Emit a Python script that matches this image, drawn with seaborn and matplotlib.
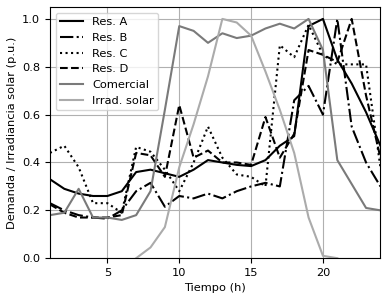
import numpy as np
import pandas as pd
import matplotlib
matplotlib.use("Agg")
import matplotlib.pyplot as plt
import seaborn as sns

hours = list(range(1, 25))
res_a = [0.33, 0.29, 0.27, 0.26, 0.26, 0.28, 0.36, 0.37, 0.355, 0.34, 0.37, 0.41,
         0.40, 0.39, 0.385, 0.41, 0.47, 0.51, 0.97, 1.00, 0.83, 0.73, 0.61, 0.47]
res_b = [0.23, 0.20, 0.18, 0.17, 0.165, 0.20, 0.28, 0.315, 0.215, 0.26, 0.25, 0.27,
         0.25, 0.28, 0.30, 0.315, 0.30, 0.66, 0.72, 0.60, 1.00, 0.55, 0.40, 0.30]
res_c = [0.44, 0.47, 0.38, 0.23, 0.23, 0.19, 0.465, 0.445, 0.37, 0.28, 0.40, 0.55,
         0.42, 0.35, 0.34, 0.30, 0.89, 0.84, 0.975, 0.85, 0.81, 0.81, 0.81, 0.38]
res_d = [0.225, 0.19, 0.17, 0.17, 0.17, 0.18, 0.44, 0.43, 0.34, 0.64, 0.42, 0.45,
         0.40, 0.40, 0.39, 0.59, 0.42, 0.52, 0.87, 0.85, 0.82, 1.00, 0.68, 0.42]
comercial = [0.18, 0.19, 0.29, 0.17, 0.17, 0.16, 0.18, 0.28, 0.62, 0.97, 0.95, 0.90,
             0.94, 0.92, 0.93, 0.96, 0.98, 0.96, 1.00, 0.87, 0.41, 0.31, 0.21, 0.20]
nan = np.nan
irrad = [nan, nan, nan, nan, nan, nan, 0.0, 0.045, 0.13, 0.38, 0.56, 0.76,
         1.00, 0.985, 0.93, 0.78, 0.62, 0.44, 0.17, 0.01, 0.0, nan, nan, nan]

labels = ["Res. A", "Res. B", "Res. C", "Res. D", "Comercial", "Irrad. solar"]
series = [res_a, res_b, res_c, res_d, comercial, irrad]
colors = ["black", "black", "black", "black", "#7a7a7a", "#ababab"]
styles = ["-", "-.", ":", "--", "-", "-"]

plt.rcParams["font.family"] = ["DejaVu Sans"]
plt.rcParams["font.size"] = 8.2

fig, ax = plt.subplots(figsize=(3.87, 3.02), dpi=100)
for lab, ys, c, ls in zip(labels, series, colors, styles):
    df = pd.DataFrame({"h": hours, "v": ys}).dropna()
    sns.lineplot(data=df, x="h", y="v", ax=ax, color=c, linestyle=ls,
                 linewidth=1.5, label=lab)

ax.set_xlim(1, 24)
ax.set_ylim(0, 1.05)
ax.set_xticks([5, 10, 15, 20])
ax.set_yticks([0.0, 0.2, 0.4, 0.6, 0.8, 1.0])
ax.grid(True, color="#b0b0b0", linewidth=0.8)
ax.set_xlabel("Tiempo (h)")
ax.set_ylabel("Demanda / Irradiancia solar (p.u.)")
ax.legend(loc="upper left")
fig.subplots_adjust(left=0.129, right=0.983, top=0.977, bottom=0.145)
fig.savefig("out.png", dpi=100)
